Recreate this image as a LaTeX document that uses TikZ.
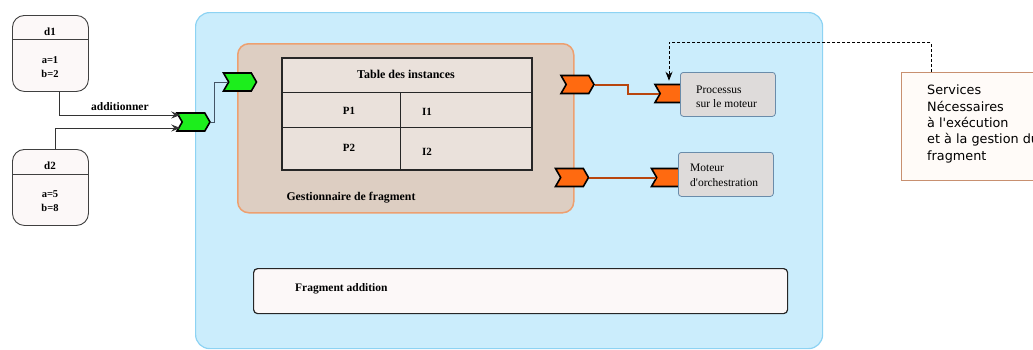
\documentclass[tikz,border=0pt]{standalone}
\usepackage{fontspec}
\setmainfont{Liberation Serif}
\newfontfamily\servfont{DejaVu Sans}
\usetikzlibrary{shapes.symbols,arrows.meta,calc}
\definecolor{bluefill}{HTML}{CBEDFC}
\definecolor{blueborder}{HTML}{8DD3F3}
\definecolor{tanfill}{HTML}{DDCEC2}
\definecolor{tanborder}{HTML}{EDA070}
\definecolor{tablefill}{HTML}{EAE1DB}
\definecolor{pgreen}{HTML}{1CEE1C}
\definecolor{porange}{HTML}{FF6A10}
\definecolor{corange}{HTML}{B8460E}
\definecolor{grayfill}{HTML}{DEDBDA}
\definecolor{grayborder}{HTML}{6A8CAA}
\definecolor{servfill}{HTML}{FFFBF8}
\definecolor{servborder}{HTML}{C89070}
\definecolor{dfill}{HTML}{FCF8F8}
\definecolor{wire}{HTML}{445566}
\tikzset{
  box/.style={draw, rectangle, inner sep=0pt, anchor=north west},
  dbox/.style={box, fill=dfill, draw=black!75, line width=0.9pt, rounded corners=12pt, minimum width=76pt, minimum height=76pt},
  port/.style={signal, signal to=east, signal from=west, signal pointer angle=120, draw=black, line width=1.6pt, inner sep=0pt, minimum width=33pt, minimum height=18pt},
  gport/.style={port, fill=pgreen},
  oport/.style={port, fill=porange},
  lbl/.style={font=\bfseries\fontsize{11}{13}\selectfont, inner sep=0pt},
  gbox/.style={box, fill=grayfill, draw=grayborder, line width=0.8pt, rounded corners=3pt},
  gtxt/.style={font=\fontsize{11.5}{14.5}\selectfont, align=left, inner sep=0pt, anchor=west},
  arr/.style={-{Stealth[length=9pt,width=7pt,inset=3pt]}, draw=black!80, line width=0.8pt},
  ocon/.style={draw=corange, line width=2pt}
}
\begin{document}
\begin{tikzpicture}[x=1pt,y=-1pt]
\useasboundingbox (0,0) rectangle (1033,349);
\clip (0,0) rectangle (1033,349);
% outer blue container
\node[box, fill=bluefill, draw=blueborder, line width=1.2pt, rounded corners=14pt, minimum width=627pt, minimum height=336pt] (outer) at (195,12) {};
% gestionnaire
\node[box, fill=tanfill, draw=tanborder, line width=1.5pt, rounded corners=11pt, minimum width=336pt, minimum height=169pt] (gest) at (237,43) {};
\node[lbl, font=\bfseries\fontsize{11.8}{13}\selectfont] (gestt) at (351,198) {Gestionnaire de fragment};
% table
\node[box, fill=tablefill, draw=black!85, line width=1.5pt, minimum width=250pt, minimum height=112pt] (tab) at (281,57) {};
\draw[black!85, line width=1pt] ($(tab.north west)+(0,35)$) -- ($(tab.north east)+(0,35)$);
\draw[black!85, line width=1pt] ($(tab.north west)+(0,70)$) -- ($(tab.north east)+(0,70)$);
\draw[black!85, line width=1pt] ($(tab.north west)+(119,35)$) -- ($(tab.south west)+(119,0)$);
\node[lbl, font=\bfseries\fontsize{12}{13}\selectfont] (tabt) at (406,74) {Table des instances};
\node[lbl] (p1) at (349,111) {P1};
\node[lbl] (i1) at (427,112) {I1};
\node[lbl] (p2) at (349,148) {P2};
\node[lbl] (i2) at (427,152) {I2};
% d boxes
\node[dbox] (d1) at (12,15) {};
\draw[black!75, line width=0.9pt] ($(d1.north west)+(0,24)$) -- ($(d1.north east)+(0,24)$);
\node[lbl] (d1t) at (50,32) {d1};
\node[lbl, align=center, font=\bfseries\fontsize{10.5}{14}\selectfont] (d1v) at (50,67) {a=1\\b=2};
\node[dbox] (d2) at (12,149) {};
\draw[black!75, line width=0.9pt] ($(d2.north west)+(0,25)$) -- ($(d2.north east)+(0,25)$);
\node[lbl] (d2t) at (50,166) {d2};
\node[lbl, align=center, font=\bfseries\fontsize{10.5}{14}\selectfont] (d2v) at (50,201) {a=5\\b=8};
% ports
\node[gport] (gin1) at (193.5,122) {};
\node[gport] (gin2) at (240,82) {};
\node[oport] (gout1) at (577.5,84.5) {};
\node[oport] (gout2) at (572,177.5) {};
\node[oport] (gin3) at (671.5,93.5) {};
\node[oport] (gin4) at (668,177.5) {};
% gray boxes
\node[gbox, minimum width=95pt, minimum height=44pt] (proc) at (680,72) {};
\node[gtxt] (proct) at (696,97) {Processus\\sur le moteur};
\node[gbox, minimum width=95pt, minimum height=44pt] (mot) at (678,152) {};
\node[gtxt, font=\fontsize{11.5}{15}\selectfont] (mott) at (690,175) {Moteur\\d\textquotesingle orchestration};
% services
\node[box, fill=servfill, draw=servborder, line width=0.9pt, minimum width=170pt, minimum height=108pt] (serv) at (901,72) {};
\node[font=\servfont\fontsize{12.8}{16.3}\selectfont, align=left, inner sep=0pt, anchor=north west] (servt) at (927,85) {Services\\Nécessaires\\à l\textquotesingle exécution\\et à la gestion du\\fragment};
% fragment addition
\node[box, fill=dfill, draw=black!85, line width=1.2pt, rounded corners=4pt, minimum width=534pt, minimum height=45pt] (frag) at (253,268) {};
\node[lbl, font=\bfseries\fontsize{11.5}{12}\selectfont, anchor=west] (fragt) at (295,289) {Fragment addition};
% connectors
\draw[arr] ([xshift=9pt]d1.south) |- ([yshift=7pt,xshift=-1pt]gin1.west) node[pos=0.75, above=4pt, lbl, font=\bfseries\fontsize{11.5}{12}\selectfont] (addl) {additionner};
\draw[arr] ([xshift=5pt]d2.north) |- ([yshift=-6pt,xshift=-1pt]gin1.west);
\draw[wire, line width=0.8pt] (gin1.east) -- ++(3,0) |- (gin2.west);
\draw[ocon] (gout1.east) -- ++(33,0) |- (gin3.west);
\draw[ocon] (gout2.east) -- (gin4.west);
\draw[dash pattern=on 3pt off 2pt, line width=0.8pt, -{Stealth[length=9pt,width=7pt,inset=3pt]}] ([xshift=30pt]serv.north west) |- ($(gin3.north)+(-2.5,-41)$) -- ([xshift=-2.5pt,yshift=3pt]gin3.north);
\end{tikzpicture}
\end{document}
